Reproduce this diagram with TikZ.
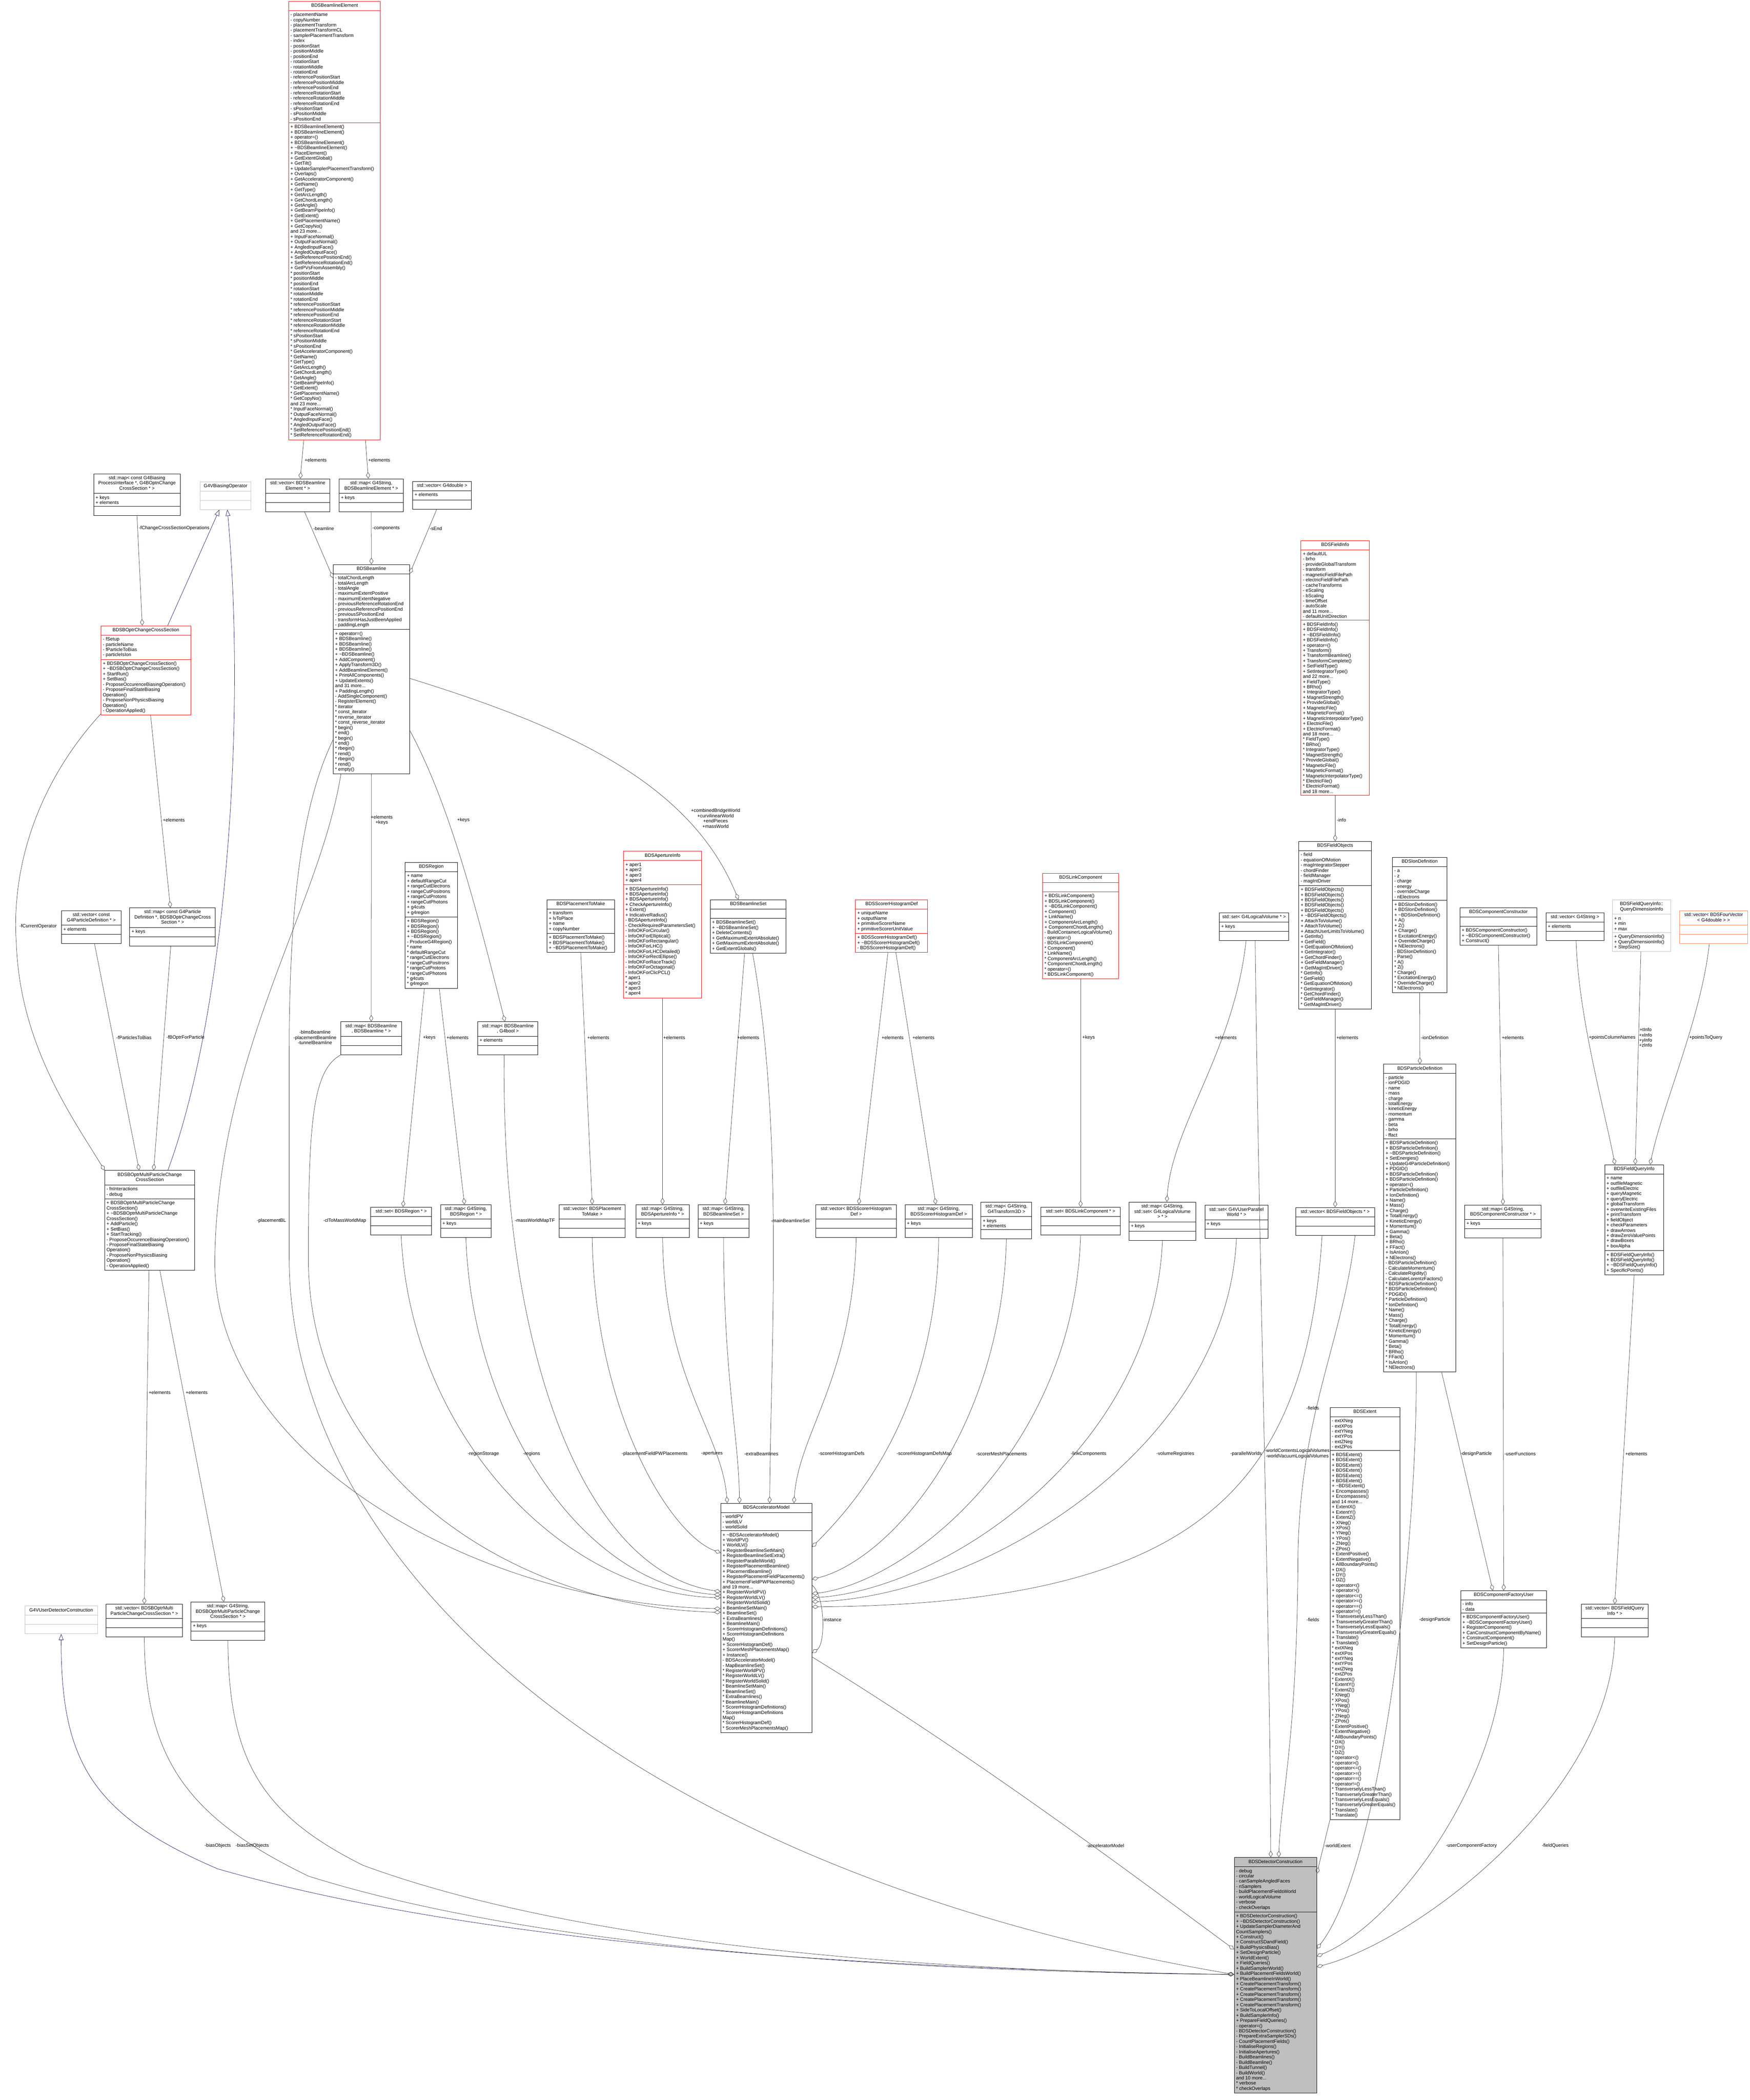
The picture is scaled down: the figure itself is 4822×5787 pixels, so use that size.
\documentclass[tikz,border=0pt]{standalone}
\usepackage{fontspec}
\setmainfont{Liberation Sans}
\usepackage{xcolor}
\definecolor{edgegray}{RGB}{64,64,64}
\definecolor{navyblue}{RGB}{25,25,112}
\definecolor{boxgray}{RGB}{191,191,191}
\definecolor{orangebox}{RGB}{255,127,80}
\usetikzlibrary{arrows.meta,shapes.multipart}
\newcommand\cfont{\fontsize{13}{14.4}\selectfont}
\newcommand\tld{\textasciitilde}
\newcommand\ttl[1]{\begin{tabular}{@{}c@{}}#1\end{tabular}}

\begin{document}
\cfont
\begin{tikzpicture}[x=1pt,y=-1pt]
	\tikzstyle{cls}=[draw=black,line width=1.1pt,fill=white,rectangle split,rectangle split parts=3,rectangle split part align={center,left,left},align=left,inner xsep=5pt,inner ysep=5pt,anchor=north west];
	\tikzstyle{agg}=[draw=edgegray,line width=0.9pt,-{Diamond[open,length=18pt,width=11pt]}];
	\tikzstyle{inh}=[draw=navyblue,line width=0.9pt,-{Triangle[open,length=17pt,width=13pt]}];
	\tikzstyle{lab}=[inner sep=0pt,align=center];
	\fill[white] (0,0) rectangle (4822,5787);
	\useasboundingbox (0,0) rectangle (4822,5787);
	%% Top
	\node[cls,draw=red,minimum width=253] (elem) at (795,3) {\strut BDSBeamlineElement\nodepart{two}\strut - placementName\\- copyNumber\\- placementTransform\\- placementTransformCL\\- samplerPlacementTransform\\- index\\- positionStart\\- positionMiddle\\- positionEnd\\- rotationStart\\- rotationMiddle\\- rotationEnd\\- referencePositionStart\\- referencePositionMiddle\\- referencePositionEnd\\- referenceRotationStart\\- referenceRotationMiddle\\- referenceRotationEnd\\- sPositionStart\\- sPositionMiddle\\- sPositionEnd\nodepart{three}\strut + BDSBeamlineElement()\\+ BDSBeamlineElement()\\+ operator=()\\+ BDSBeamlineElement()\\+ \tld BDSBeamlineElement()\\+ PlaceElement()\\+ GetExtentGlobal()\\+ GetTilt()\\+ UpdateSamplerPlacementTransform()\\+ Overlaps()\\+ GetAcceleratorComponent()\\+ GetName()\\+ GetType()\\+ GetArcLength()\\+ GetChordLength()\\+ GetAngle()\\+ GetBeamPipeInfo()\\+ GetExtent()\\+ GetPlacementName()\\+ GetCopyNo()\\and 23 more...\\+ InputFaceNormal()\\+ OutputFaceNormal()\\+ AngledInputFace()\\+ AngledOutputFace()\\+ SetReferencePositionEnd()\\+ SetReferenceRotationEnd()\\+ GetPVsFromAssembly()\\{}* positionStart\\{}* positionMiddle\\{}* positionEnd\\{}* rotationStart\\{}* rotationMiddle\\{}* rotationEnd\\{}* referencePositionStart\\{}* referencePositionMiddle\\{}* referencePositionEnd\\{}* referenceRotationStart\\{}* referenceRotationMiddle\\{}* referenceRotationEnd\\{}* sPositionStart\\{}* sPositionMiddle\\{}* sPositionEnd\\{}* GetAcceleratorComponent()\\{}* GetName()\\{}* GetType()\\{}* GetArcLength()\\{}* GetChordLength()\\{}* GetAngle()\\{}* GetBeamPipeInfo()\\{}* GetExtent()\\{}* GetPlacementName()\\{}* GetCopyNo()\\and 23 more...\\{}* InputFaceNormal()\\{}* OutputFaceNormal()\\{}* AngledInputFace()\\{}* AngledOutputFace()\\{}* SetReferencePositionEnd()\\{}* SetReferenceRotationEnd()};
	\node[cls,minimum width=238] (mapbias) at (258,1305) {\ttl{std::map< const G4Biasing\\ProcessInterface *, G4BOptnChange\\CrossSection * >}\nodepart{two}\strut + keys\\+ elements\nodepart{three}\strut};
	\node[cls,draw=boxgray,minimum width=140] (biasop) at (551,1327) {\strut G4VBiasingOperator\nodepart{two}\strut\nodepart{three}\strut};
	\node[cls,minimum width=178] (vecelem) at (731,1319) {\ttl{std::vector< BDSBeamline\\Element * >}\nodepart{two}\strut\nodepart{three}\strut};
	\node[cls,minimum width=177] (mapelem) at (934,1319) {\ttl{std::map< G4String,\\BDSBeamlineElement * >}\nodepart{two}\strut + keys\nodepart{three}\strut};
	\node[cls,minimum width=162] (vecdbl) at (1137,1326) {\strut std::vector< G4double >\nodepart{two}\strut + elements\nodepart{three}\strut};
	\node[cls,minimum width=210] (beamline) at (918,1555) {\strut BDSBeamline\nodepart{two}\strut - totalChordLength\\- totalArcLength\\- totalAngle\\- maximumExtentPositive\\- maximumExtentNegative\\- previousReferenceRotationEnd\\- previousReferencePositionEnd\\- previousSPositionEnd\\- transformHasJustBeenApplied\\- paddingLength\nodepart{three}\strut + operator=()\\+ BDSBeamline()\\+ BDSBeamline()\\+ BDSBeamline()\\+ \tld BDSBeamline()\\+ AddComponent()\\+ ApplyTransform3D()\\+ AddBeamlineElement()\\+ PrintAllComponents()\\+ UpdateExtents()\\and 31 more...\\+ PaddingLength()\\- AddSingleComponent()\\- RegisterElement()\\{}* iterator\\{}* const\_iterator\\{}* reverse\_iterator\\{}* const\_reverse\_iterator\\{}* begin()\\{}* end()\\{}* begin()\\{}* end()\\{}* rbegin()\\{}* rend()\\{}* rbegin()\\{}* rend()\\{}* empty()};
	\node[cls,draw=red,minimum width=247] (optchange) at (278,1724) {\strut BDSBOptrChangeCrossSection\nodepart{two}\strut - fSetup\\- particleName\\- fParticleToBias\\- particleIsIon\nodepart{three}\strut + BDSBOptrChangeCrossSection()\\+ \tld BDSBOptrChangeCrossSection()\\+ StartRun()\\+ SetBias()\\- ProposeOccurenceBiasingOperation()\\- ProposeFinalStateBiasing\\Operation()\\- ProposeNonPhysicsBiasing\\Operation()\\- OperationApplied()};
	\node[cls,draw=red,minimum width=188] (fieldinfo) at (3585,1489) {\strut BDSFieldInfo\nodepart{two}\strut + defaultUL\\- brho\\- provideGlobalTransform\\- transform\\- magneticFieldFilePath\\- electricFieldFilePath\\- cacheTransforms\\- eScaling\\- bScaling\\- timeOffset\\- autoScale\\and 11 more...\\- defaultUnitDirection\nodepart{three}\strut + BDSFieldInfo()\\+ BDSFieldInfo()\\+ \tld BDSFieldInfo()\\+ BDSFieldInfo()\\+ operator=()\\+ Transform()\\+ TransformBeamline()\\+ TransformComplete()\\+ SetFieldType()\\+ SetIntegratorType()\\and 22 more...\\+ FieldType()\\+ BRho()\\+ IntegratorType()\\+ MagnetStrength()\\+ ProvideGlobal()\\+ MagneticFile()\\+ MagneticFormat()\\+ MagneticInterpolatorType()\\+ ElectricFile()\\+ ElectricFormat()\\and 18 more...\\{}* FieldType()\\{}* BRho()\\{}* IntegratorType()\\{}* MagnetStrength()\\{}* ProvideGlobal()\\{}* MagneticFile()\\{}* MagneticFormat()\\{}* MagneticInterpolatorType()\\{}* ElectricFile()\\{}* ElectricFormat()\\and 18 more...};
	%% Middle row
	\node[cls,minimum width=164] (vecpd) at (169,2509) {\ttl{std::vector< const\\G4ParticleDefinition * >}\nodepart{two}\strut + elements\nodepart{three}\strut};
	\node[cls,minimum width=236] (mappd) at (357,2501) {\ttl{std::map< const G4Particle\\Definition *, BDSBOptrChangeCross\\Section * >}\nodepart{two}\strut + keys\nodepart{three}\strut};
	\node[cls,minimum width=167] (mapblbl) at (939,2815) {\ttl{std::map< BDSBeamline\\*, BDSBeamline * >}\nodepart{two}\strut\nodepart{three}\strut};
	\node[cls,minimum width=144] (region) at (1116,2376) {\strut BDSRegion\nodepart{two}\strut + name\\+ defaultRangeCut\\+ rangeCutElectrons\\+ rangeCutPositrons\\+ rangeCutProtons\\+ rangeCutPhotons\\+ g4cuts\\+ g4region\nodepart{three}\strut + BDSRegion()\\+ BDSRegion()\\+ BDSRegion()\\+ \tld BDSRegion()\\- ProduceG4Region()\\{}* name\\{}* defaultRangeCut\\{}* rangeCutElectrons\\{}* rangeCutPositrons\\{}* rangeCutProtons\\{}* rangeCutPhotons\\{}* g4cuts\\{}* g4region};
	\node[cls,minimum width=166] (mapblbool) at (1316,2815) {\ttl{std::map< BDSBeamline\\*, G4bool >}\nodepart{two}\strut + elements\nodepart{three}\strut};
	\node[cls,minimum width=186] (placemake) at (1507,2479) {\strut BDSPlacementToMake\nodepart{two}\strut + transform\\+ lvToPlace\\+ name\\+ copyNumber\nodepart{three}\strut + BDSPlacementToMake()\\+ BDSPlacementToMake()\\+ \tld BDSPlacementToMake()};
	\node[cls,draw=red,minimum width=215] (aperinfo) at (1718,2345) {\strut BDSApertureInfo\nodepart{two}\strut + aper1\\+ aper2\\+ aper3\\+ aper4\nodepart{three}\strut + BDSApertureInfo()\\+ BDSApertureInfo()\\+ BDSApertureInfo()\\+ CheckApertureInfo()\\+ Extent()\\+ IndicativeRadius()\\- BDSApertureInfo()\\- CheckRequiredParametersSet()\\- InfoOKForCircular()\\- InfoOKForElliptical()\\- InfoOKForRectangular()\\- InfoOKForLHC()\\- InfoOKForLHCDetailed()\\- InfoOKForRectEllipse()\\- InfoOKForRaceTrack()\\- InfoOKForOctagonal()\\- InfoOKForClicPCL()\\{}* aper1\\{}* aper2\\{}* aper3\\{}* aper4};
	\node[cls,minimum width=209] (blset) at (1957,2479) {\strut BDSBeamlineSet\nodepart{two}\strut\nodepart{three}\strut + BDSBeamlineSet()\\+ \tld BDSBeamlineSet()\\+ DeleteContents()\\+ GetMaximumExtentAbsolute()\\+ GetMaximumExtentAbsolute()\\+ GetExtentGlobals()};
	\node[cls,draw=red,minimum width=199] (scorerdef) at (2357,2479) {\strut BDSScorerHistogramDef\nodepart{two}\strut + uniqueName\\+ outputName\\+ primitiveScorerName\\+ primitiveScorerUnitValue\nodepart{three}\strut + BDSScorerHistogramDef()\\+ \tld BDSScorerHistogramDef()\\- BDSScorerHistogramDef()};
	\node[cls,draw=red,minimum width=209] (linkcomp) at (2873,2406) {\strut BDSLinkComponent\nodepart{two}\strut\nodepart{three}\strut + BDSLinkComponent()\\+ BDSLinkComponent()\\+ \tld BDSLinkComponent()\\+ Component()\\+ LinkName()\\+ ComponentArcLength()\\+ ComponentChordLength()\\- BuildContainerLogicalVolume()\\- operator=()\\- BDSLinkComponent()\\{}* Component()\\{}* LinkName()\\{}* ComponentArcLength()\\{}* ComponentChordLength()\\{}* operator=()\\{}* BDSLinkComponent()};
	\node[cls,minimum width=191] (setlv) at (3360,2515) {\strut std::set< G4LogicalVolume * >\nodepart{two}\strut + keys\nodepart{three}\strut};
	\node[cls,minimum width=200] (fieldobj) at (3579,2318) {\strut BDSFieldObjects\nodepart{two}\strut - field\\- equationOfMotion\\- magIntegratorStepper\\- chordFinder\\- fieldManager\\- magIntDriver\nodepart{three}\strut + BDSFieldObjects()\\+ BDSFieldObjects()\\+ BDSFieldObjects()\\+ BDSFieldObjects()\\+ BDSFieldObjects()\\+ \tld BDSFieldObjects()\\+ AttachToVolume()\\+ AttachToVolume()\\+ AttachUserLimitsToVolume()\\+ GetInfo()\\+ GetField()\\+ GetEquationOfMotion()\\+ GetIntegrator()\\+ GetChordFinder()\\+ GetFieldManager()\\+ GetMagIntDriver()\\{}* GetInfo()\\{}* GetField()\\{}* GetEquationOfMotion()\\{}* GetIntegrator()\\{}* GetChordFinder()\\{}* GetFieldManager()\\{}* GetMagIntDriver()};
	\node[cls,minimum width=150] (iondef) at (3837,2362) {\strut BDSIonDefinition\nodepart{two}\strut - a\\- z\\- charge\\- energy\\- overrideCharge\\- nElectrons\nodepart{three}\strut + BDSIonDefinition()\\+ BDSIonDefinition()\\+ \tld BDSIonDefinition()\\+ A()\\+ Z()\\+ Charge()\\+ ExcitationEnergy()\\+ OverrideCharge()\\+ NElectrons()\\- BDSIonDefinition()\\- Parse()\\{}* A()\\{}* Z()\\{}* Charge()\\{}* ExcitationEnergy()\\{}* OverrideCharge()\\{}* NElectrons()};
	\node[cls,minimum width=212] (compcons) at (4023,2501) {\strut BDSComponentConstructor\nodepart{two}\strut\nodepart{three}\strut + BDSComponentConstructor()\\+ \tld BDSComponentConstructor()\\+ Construct()};
	\node[cls,minimum width=160] (vecstr) at (4260,2515) {\strut std::vector< G4String >\nodepart{two}\strut + elements\nodepart{three}\strut};
	\node[cls,draw=boxgray,minimum width=161] (querydim) at (4443,2479) {\ttl{BDSFieldQueryInfo::\\QueryDimensionInfo}\nodepart{two}\strut + n\\+ min\\+ max\nodepart{three}\strut + QueryDimensionInfo()\\+ QueryDimensionInfo()\\+ StepSize()};
	\node[cls,draw=orangebox,minimum width=188] (vecfour) at (4628,2509) {\ttl{std::vector< BDSFourVector\\< G4double > >}\nodepart{two}\strut\nodepart{three}\strut};
	\node[cls,minimum width=199] (partdef) at (3813,2932) {\strut BDSParticleDefinition\nodepart{two}\strut - particle\\- ionPDGID\\- name\\- mass\\- charge\\- totalEnergy\\- kineticEnergy\\- momentum\\- gamma\\- beta\\- brho\\- ffact\nodepart{three}\strut + BDSParticleDefinition()\\+ BDSParticleDefinition()\\+ \tld BDSParticleDefinition()\\+ SetEnergies()\\+ UpdateG4ParticleDefinition()\\+ PDGID()\\+ BDSParticleDefinition()\\+ BDSParticleDefinition()\\+ operator=()\\+ ParticleDefinition()\\+ IonDefinition()\\+ Name()\\+ Mass()\\+ Charge()\\+ TotalEnergy()\\+ KineticEnergy()\\+ Momentum()\\+ Gamma()\\+ Beta()\\+ BRho()\\+ FFact()\\+ IsAnIon()\\+ NElectrons()\\- BDSParticleDefinition()\\- CalculateMomentum()\\- CalculateRigidity()\\- CalculateLorentzFactors()\\{}* BDSParticleDefinition()\\{}* BDSParticleDefinition()\\{}* PDGID()\\{}* ParticleDefinition()\\{}* IonDefinition()\\{}* Name()\\{}* Mass()\\{}* Charge()\\{}* TotalEnergy()\\{}* KineticEnergy()\\{}* Momentum()\\{}* Gamma()\\{}* Beta()\\{}* BRho()\\{}* FFact()\\{}* IsAnIon()\\{}* NElectrons()};
	\node[cls,minimum width=162] (fqinfo) at (4422,3209) {\strut BDSFieldQueryInfo\nodepart{two}\strut + name\\+ outfileMagnetic\\+ outfileElectric\\+ queryMagnetic\\+ queryElectric\\+ globalTransform\\+ overwriteExistingFiles\\+ printTransform\\+ fieldObject\\+ checkParameters\\+ drawArrows\\+ drawZeroValuePoints\\+ drawBoxes\\+ boxAlpha\nodepart{three}\strut + BDSFieldQueryInfo()\\+ BDSFieldQueryInfo()\\+ \tld BDSFieldQueryInfo()\\+ SpecificPoints()};
	\node[cls,minimum width=248] (optmulti) at (288,3225) {\ttl{BDSBOptrMultiParticleChange\\CrossSection}\nodepart{two}\strut - fnInteractions\\- debug\nodepart{three}\strut + BDSBOptrMultiParticleChange\\CrossSection()\\+ \tld BDSBOptrMultiParticleChange\\CrossSection()\\+ AddParticle()\\+ SetBias()\\+ StartTracking()\\- ProposeOccurenceBiasingOperation()\\- ProposeFinalStateBiasing\\Operation()\\- ProposeNonPhysicsBiasing\\Operation()\\- OperationApplied()};
	%% Container row
	\node[cls,minimum width=168] (setregion) at (1021,3326) {\strut std::set< BDSRegion * >\nodepart{two}\strut\nodepart{three}\strut};
	\node[cls,minimum width=139] (mapregion) at (1214,3319) {\ttl{std::map< G4String,\\BDSRegion * >}\nodepart{two}\strut + keys\nodepart{three}\strut};
	\node[cls,minimum width=181] (vecplace) at (1541,3319) {\ttl{std::vector< BDSPlacement\\ToMake >}\nodepart{two}\strut\nodepart{three}\strut};
	\node[cls,minimum width=147] (mapaper) at (1752,3319) {\ttl{std::map< G4String,\\BDSApertureInfo * >}\nodepart{two}\strut + keys\nodepart{three}\strut};
	\node[cls,minimum width=141] (mapblset) at (1923,3319) {\ttl{std::map< G4String,\\BDSBeamlineSet >}\nodepart{two}\strut + keys\nodepart{three}\strut};
	\node[cls,minimum width=222] (vecscorer) at (2248,3319) {\ttl{std::vector< BDSScorerHistogram\\Def >}\nodepart{two}\strut\nodepart{three}\strut};
	\node[cls,minimum width=185] (mapscorer) at (2494,3319) {\ttl{std::map< G4String,\\BDSScorerHistogramDef >}\nodepart{two}\strut + keys\nodepart{three}\strut};
	\node[cls,minimum width=140] (maptrans) at (2703,3312) {\ttl{std::map< G4String,\\G4Transform3D >}\nodepart{two}\strut + keys\\+ elements\nodepart{three}\strut};
	\node[cls,minimum width=219] (setlink) at (2868,3326) {\strut std::set< BDSLinkComponent * >\nodepart{two}\strut\nodepart{three}\strut};
	\node[cls,minimum width=184] (mapvol) at (3111,3312) {\ttl{std::map< G4String,\\std::set< G4LogicalVolume\\* > * >}\nodepart{two}\strut + keys\nodepart{three}\strut};
	\node[cls,minimum width=174] (setpar) at (3320,3321) {\ttl{std::set< G4VUserParallel\\World * >}\nodepart{two}\strut + keys\nodepart{three}\strut};
	\node[cls,minimum width=218] (vecfobj) at (3570,3327) {\strut std::vector< BDSFieldObjects * >\nodepart{two}\strut\nodepart{three}\strut};
	\node[cls,minimum width=211] (mapcons) at (4036,3320) {\ttl{std::map< G4String,\\BDSComponentConstructor * >}\nodepart{two}\strut + keys\nodepart{three}\strut};
	%% Lower part
	\node[cls,minimum width=251] (accmodel) at (1986,4142) {\strut BDSAcceleratorModel\nodepart{two}\strut - worldPV\\- worldLV\\- worldSolid\nodepart{three}\strut + \tld BDSAcceleratorModel()\\+ WorldPV()\\+ WorldLV()\\+ RegisterBeamlineSetMain()\\+ RegisterBeamlineSetExtra()\\+ RegisterParallelWorld()\\+ RegisterPlacementBeamline()\\+ PlacementBeamline()\\+ RegisterPlacementFieldPlacements()\\+ PlacementFieldPWPlacements()\\and 19 more...\\+ RegisterWorldPV()\\+ RegisterWorldLV()\\+ RegisterWorldSolid()\\+ BeamlineSetMain()\\+ BeamlineSet()\\+ ExtraBeamlines()\\+ BeamlineMain()\\+ ScorerHistogramDefinitions()\\+ ScorerHistogramDefinitions\\Map()\\+ ScorerHistogramDef()\\+ ScorerMeshPlacementsMap()\\+ Instance()\\- BDSAcceleratorModel()\\- MapBeamlineSet()\\{}* RegisterWorldPV()\\{}* RegisterWorldLV()\\{}* RegisterWorldSolid()\\{}* BeamlineSetMain()\\{}* BeamlineSet()\\{}* ExtraBeamlines()\\{}* BeamlineMain()\\{}* ScorerHistogramDefinitions()\\{}* ScorerHistogramDefinitions\\Map()\\{}* ScorerHistogramDef()\\{}* ScorerMeshPlacementsMap()};
	\node[cls,minimum width=192] (extent) at (3665,3878) {\strut BDSExtent\nodepart{two}\strut - extXNeg\\- extXPos\\- extYNeg\\- extYPos\\- extZNeg\\- extZPos\nodepart{three}\strut + BDSExtent()\\+ BDSExtent()\\+ BDSExtent()\\+ BDSExtent()\\+ BDSExtent()\\+ BDSExtent()\\+ \tld BDSExtent()\\+ Encompasses()\\+ Encompasses()\\and 14 more...\\+ ExtentX()\\+ ExtentY()\\+ ExtentZ()\\+ XNeg()\\+ XPos()\\+ YNeg()\\+ YPos()\\+ ZNeg()\\+ ZPos()\\+ ExtentPositive()\\+ ExtentNegative()\\+ AllBoundaryPoints()\\+ DX()\\+ DY()\\+ DZ()\\+ operator<()\\+ operator>()\\+ operator<=()\\+ operator>=()\\+ operator==()\\+ operator!=()\\+ TransverselyLessThan()\\+ TransverselyGreaterThan()\\+ TransverselyLessEquals()\\+ TransverselyGreaterEquals()\\+ Translate()\\+ Translate()\\{}* extXNeg\\{}* extXPos\\{}* extYNeg\\{}* extYPos\\{}* extZNeg\\{}* extZPos\\{}* ExtentX()\\{}* ExtentY()\\{}* ExtentZ()\\{}* XNeg()\\{}* XPos()\\{}* YNeg()\\{}* YPos()\\{}* ZNeg()\\{}* ZPos()\\{}* ExtentPositive()\\{}* ExtentNegative()\\{}* AllBoundaryPoints()\\{}* DX()\\{}* DY()\\{}* DZ()\\{}* operator<()\\{}* operator>()\\{}* operator<=()\\{}* operator>=()\\{}* operator==()\\{}* operator!=()\\{}* TransverselyLessThan()\\{}* TransverselyGreaterThan()\\{}* TransverselyLessEquals()\\{}* TransverselyGreaterEquals()\\{}* Translate()\\{}* Translate()};
	\node[cls,minimum width=237] (cfuser) at (4025,4383) {\strut BDSComponentFactoryUser\nodepart{two}\strut - info\\- data\nodepart{three}\strut + BDSComponentFactoryUser()\\+ \tld BDSComponentFactoryUser()\\+ RegisterComponent()\\+ CanConstructComponentByName()\\+ ConstructComponent()\\+ SetDesignParticle()};
	\node[cls,minimum width=185] (vecfq) at (4357,4420) {\ttl{std::vector< BDSFieldQuery\\Info * >}\nodepart{two}\strut\nodepart{three}\strut};
	\node[cls,draw=boxgray,minimum width=200] (userdet) at (68,4425) {\strut G4VUserDetectorConstruction\nodepart{two}\strut\nodepart{three}\strut};
	\node[cls,minimum width=210] (vecom) at (292,4420) {\ttl{std::vector< BDSBOptrMulti\\ParticleChangeCrossSection * >}\nodepart{two}\strut\nodepart{three}\strut};
	\node[cls,minimum width=203] (mapom) at (526,4414) {\ttl{std::map< G4String,\\BDSBOptrMultiParticleChange\\CrossSection * >}\nodepart{two}\strut + keys\nodepart{three}\strut};
	\node[cls,fill=boxgray,minimum width=227] (detcons) at (3401,5118) {\strut BDSDetectorConstruction\nodepart{two}\strut - debug\\- circular\\- canSampleAngledFaces\\- nSamplers\\- buildPlacementFieldsWorld\\- worldLogicalVolume\\- verbose\\- checkOverlaps\nodepart{three}\strut + BDSDetectorConstruction()\\+ \tld BDSDetectorConstruction()\\+ UpdateSamplerDiameterAnd\\CountSamplers()\\+ Construct()\\+ ConstructSDandField()\\+ BuildPhysicsBias()\\+ SetDesignParticle()\\+ WorldExtent()\\+ FieldQueries()\\+ BuildSamplerWorld()\\+ BuildPlacementFieldsWorld()\\+ PlaceBeamlineInWorld()\\+ CreatePlacementTransform()\\+ CreatePlacementTransform()\\+ CreatePlacementTransform()\\+ CreatePlacementTransform()\\+ CreatePlacementTransform()\\+ SideToLocalOffset()\\+ BuildSamplerInfo()\\+ PrepareFieldQueries()\\- operator=()\\- BDSDetectorConstruction()\\- PrepareExtraSamplerSDs()\\- CountPlacementFields()\\- InitialiseRegions()\\- InitialiseApertures()\\- BuildBeamlines()\\- BuildBeamline()\\- BuildTunnel()\\- BuildWorld()\\and 10 more...\\{}* verbose\\{}* checkOverlaps};
	%% Inheritance
	\draw[inh] ([xshift=60]optchange.north) -- ([xshift=-17]biasop.south);
	\draw[inh] ([xshift=50]optmulti.north) .. controls (620,2800) and (680,2000) .. ([xshift=5]biasop.south);
	\draw[inh] ([yshift=-323]detcons.north west) .. controls (2600,5430) and (1400,5380) .. (600,5150) .. controls (250,5000) and (168,4850) .. (userdet.south);
	%% Upper usage edges
	\draw[agg] ([xshift=-85]elem.south) -- ([xshift=7]vecelem.north);
	\draw[agg] ([xshift=85]elem.south) -- ([xshift=-8]mapelem.north);
	\draw[agg] ([xshift=19]vecelem.south) -- ([yshift=-38]beamline.north west);
	\draw[agg] (mapelem.south) -- (beamline.north);
	\draw[agg] ([xshift=-15]vecdbl.south) -- ([yshift=-26]beamline.north east);
	\draw[agg] (mapbias.south) -- ([xshift=-10]optchange.north);
	\draw[agg] ([yshift=4]optchange.south west) .. controls (110,2150) and (30,2380) .. (45,2600) .. controls (55,2880) and (200,3080) .. (optmulti.north west);
	\draw[agg] ([xshift=13]optchange.south) -- ([xshift=-6]mappd.north);
	\draw[agg] ([xshift=9]vecpd.south) -- ([xshift=-29]optmulti.north);
	\draw[agg] ([xshift=-5]mappd.south) -- ([xshift=11]optmulti.north);
	\draw[agg] (beamline.south) -- (mapblbl.north);
	\draw[agg] ([yshift=121]beamline.south east) .. controls (1230,2200) and (1300,2450) .. ([xshift=-8]mapblbool.north);
	\draw[agg] ([yshift=264]beamline.south east) .. controls (1550,2000) and (1900,2150) .. ([xshift=-27]blset.north);
	\draw[agg] ([xshift=-19]region.south) -- ([xshift=5]setregion.north);
	\draw[agg] ([xshift=22]region.south) -- ([xshift=-4]mapregion.north);
	\draw[agg] (placemake.south) -- (vecplace.north);
	\draw[agg] (aperinfo.south) -- (mapaper.north);
	\draw[agg] ([xshift=-10]blset.south) -- ([xshift=4]mapblset.north);
	\draw[agg] ([xshift=-10]scorerdef.south) -- ([xshift=7]vecscorer.north);
	\draw[agg] ([xshift=12]scorerdef.south) -- ([xshift=-8]mapscorer.north);
	\draw[agg] (linkcomp.south) -- (setlink.north);
	\draw[agg] ([xshift=-22]setlv.south) .. controls (3400,2900) and (3230,3100) .. ([xshift=12]mapvol.north);
	\draw[agg] (fieldinfo.south) -- (fieldobj.north);
	\draw[agg] (fieldobj.south) -- (vecfobj.north);
	\draw[agg] (iondef.south) -- (partdef.north);
	\draw[agg] (compcons.south) -- (mapcons.north);
	\draw[agg] ([xshift=3]vecstr.south) .. controls (4350,2800) and (4420,3050) .. ([xshift=-53]fqinfo.north);
	\draw[agg] ([xshift=-2]querydim.south) -- ([xshift=3]fqinfo.north);
	\draw[agg] ([xshift=-12]vecfour.south) .. controls (4690,2800) and (4580,3050) .. ([xshift=44]fqinfo.north);
	\draw[agg] ([xshift=-2]optmulti.south) -- (vecom.north);
	\draw[agg] ([xshift=28]optmulti.south) -- ([xshift=-11]mapom.north);
	%% Edges into BDSAcceleratorModel
	\draw[agg] ([xshift=-84]beamline.south) .. controls (880,2500) and (600,2900) .. (592,3470) .. controls (585,4000) and (1300,4420) .. ([yshift=-291]accmodel.north west);
	\draw[agg] ([xshift=-84]mapblbl.south) .. controls (860,2950) and (850,3100) .. (850,3470) .. controls (850,4050) and (1400,4430) .. ([yshift=-301]accmodel.north west);
	\draw[agg] ([xshift=-10]mapblbool.south) .. controls (1380,3700) and (1600,4330) .. ([yshift=-244]accmodel.north west);
	\draw[agg] (setregion.south) .. controls (1130,3950) and (1550,4390) .. ([yshift=-261]accmodel.north west);
	\draw[agg] (mapregion.south) .. controls (1300,3900) and (1600,4370) .. ([yshift=-253]accmodel.north west);
	\draw[agg] (vecplace.south) .. controls (1640,3900) and (1850,4230) .. ([yshift=-137]accmodel.north west);
	\draw[agg] (mapaper.south) .. controls (1830,3800) and (1990,3950) .. ([xshift=-108]accmodel.north);
	\draw[agg] (mapblset.south) .. controls (1995,3800) and (2035,3950) .. ([xshift=-74]accmodel.north);
	\draw[agg] ([xshift=12]blset.south) .. controls (2160,3100) and (2125,3700) .. ([xshift=9]accmodel.north);
	\draw[agg] (vecscorer.south) .. controls (2350,3800) and (2200,3950) .. ([xshift=76]accmodel.north);
	\draw[agg] (mapscorer.south) .. controls (2580,3900) and (2350,4150) .. ([yshift=-121]accmodel.north east);
	\draw[agg] (maptrans.south) .. controls (2760,3950) and (2450,4300) .. ([yshift=-210]accmodel.north east);
	\draw[agg] (setlink.south) .. controls (2960,4000) and (2500,4360) .. ([yshift=-250]accmodel.north east);
	\draw[agg] (mapvol.south) .. controls (3180,4000) and (2600,4380) .. ([yshift=-261]accmodel.north east);
	\draw[agg] (setpar.south) .. controls (3380,4000) and (2700,4400) .. ([yshift=-272]accmodel.north east);
	\draw[agg] ([xshift=-36]vecfobj.south) .. controls (3600,4100) and (3300,4420) .. ([yshift=-286]accmodel.north east);
	\draw[agg] ([yshift=-226]accmodel.north east) .. controls (2275,4400) and (2275,4530) .. ([yshift=-413]accmodel.north east);
	%% Edges into BDSDetectorConstruction
	\draw[agg] ([yshift=-424]accmodel.north east) .. controls (2700,4850) and (3100,5150) .. ([yshift=-254]detcons.north west);
	\draw[agg] ([yshift=95]beamline.south west) .. controls (840,2200) and (797,2450) .. (797,2900) -- (797,3470) .. controls (800,4300) and (1700,5150) .. ([yshift=-323]detcons.north west);
	\draw[agg] (vecom.south) .. controls (400,4850) and (520,5010) .. (850,5170) .. controls (1550,5390) and (2650,5435) .. ([yshift=-323]detcons.north west);
	\draw[agg] (mapom.south) .. controls (630,4850) and (720,5000) .. (1000,5140) .. controls (1650,5380) and (2700,5435) .. ([yshift=-323]detcons.north west);
	\draw[agg] ([xshift=3]setlv.south) .. controls (3470,3500) and (3500,4500) .. ([xshift=-13]detcons.north);
	\draw[agg] ([xshift=55]vecfobj.south) .. controls (3700,3700) and (3580,3900) .. (3577,4300) .. controls (3574,4800) and (3530,4950) .. ([xshift=9]detcons.north);
	\draw[agg] (extent.south west) -- ([yshift=-45]detcons.north east);
	\draw[agg] ([xshift=-10]partdef.south) .. controls (3905,4300) and (3800,5150) .. ([yshift=-252]detcons.north east);
	\draw[agg] ([xshift=60]partdef.south) -- ([xshift=-30]cfuser.north);
	\draw[agg] (mapcons.south) -- (cfuser.north);
	\draw[agg] (cfuser.south) .. controls (4140,4900) and (3850,5300) .. ([yshift=-273]detcons.north east);
	\draw[agg] (fqinfo.south) -- (vecfq.north);
	\draw[agg] (vecfq.south) .. controls (4440,4950) and (3900,5350) .. ([yshift=-302]detcons.north east);
	%% Labels
	\node[lab] (l1) at (870,1268) {+elements};
	\node[lab] (l2) at (1045,1268) {+elements};
	\node[lab] (l3) at (480,1456) {-fChangeCrossSectionOperations};
	\node[lab] (l4) at (892,1456) {-beamline};
	\node[lab] (l5) at (1064,1456) {-components};
	\node[lab] (l6) at (1201,1456) {-sEnd};
	\node[lab] (l7) at (479,2260) {+elements};
	\node[lab] (l8) at (1052,2260) {+elements\\+keys};
	\node[lab] (l9) at (1277,2260) {+keys};
	\node[lab] (l10) at (1972,2255) {+combinedBridgeWorld\\+curvilinearWorld\\+endPieces\\+massWorld};
	\node[lab,anchor=west] (l11) at (3684,2260) {-info};
	\node[lab] (l12) at (105,2553) {-fCurrentOperator};
	\node[lab] (l13) at (369,2859) {-fParticlesToBias};
	\node[lab] (l14) at (511,2859) {-fBOptrForParticle};
	\node[lab] (l15) at (868,2859) {-blmsBeamline\\-placementBeamline\\-tunnelBeamline};
	\node[lab] (l16) at (1183,2859) {+keys};
	\node[lab] (l17) at (1261,2859) {+elements};
	\node[lab] (l18) at (1649,2859) {+elements};
	\node[lab] (l19) at (1858,2859) {+elements};
	\node[lab] (l20) at (2062,2859) {+elements};
	\node[lab] (l21) at (2460,2859) {+elements};
	\node[lab] (l22) at (2545,2859) {+elements};
	\node[lab] (l23) at (3000,2859) {+keys};
	\node[lab] (l24) at (3378,2859) {+elements};
	\node[lab] (l25) at (3713,2859) {+elements};
	\node[lab] (l26) at (3954,2859) {-ionDefinition};
	\node[lab] (l27) at (4169,2859) {+elements};
	\node[lab] (l28) at (4443,2859) {+pointsColumnNames};
	\node[lab] (l29) at (4535,2859) {+tInfo\\+xInfo\\+yInfo\\+zInfo};
	\node[lab] (l30) at (4701,2859) {+pointsToQuery};
	\node[lab] (l31) at (748,3364) {-placementBL};
	\node[lab] (l32) at (950,3364) {-clToMassWorldMap};
	\node[lab] (l33) at (1474,3364) {-massWorldMapTF};
	\node[lab] (l34) at (2178,3364) {-mainBeamlineSet};
	\node[lab] (l35) at (440,3837) {+elements};
	\node[lab] (l36) at (542,3837) {+elements};
	\node[lab] (l37) at (1332,4006) {-regionStorage};
	\node[lab] (l38) at (1465,4006) {-regions};
	\node[lab] (l39) at (1804,4006) {-placementFieldPWPlacements};
	\node[lab] (l40) at (1962,4006) {-apertures};
	\node[lab] (l41) at (2098,4006) {-extraBeamlines};
	\node[lab] (l42) at (2319,4006) {-scorerHistogramDefs};
	\node[lab] (l43) at (2547,4006) {-scorerHistogramDefsMap};
	\node[lab] (l44) at (2760,4006) {-scorerMeshPlacements};
	\node[lab] (l45) at (3000,4006) {-linkComponents};
	\node[lab] (l46) at (3239,4006) {-volumeRegistries};
	\node[lab] (l47) at (3434,4006) {-parallelWorlds};
	\node[lab,anchor=west] (l48) at (3600,3880) {-fields};
	\node[lab] (l49) at (3575,4006) {-worldContentsLogicalVolumes\\-worldVacuumLogicalVolumes};
	\node[lab,anchor=west] (l50) at (4025,4006) {-designParticle};
	\node[lab,anchor=west] (l51) at (4146,4006) {-userFunctions};
	\node[lab,anchor=west] (l52) at (4479,4006) {+elements};
	\node[lab,anchor=west] (l53) at (2266,4464) {-instance};
	\node[lab] (l54) at (3618,4464) {-fields};
	\node[lab] (l55) at (3954,4464) {-designParticle};
	\node[lab] (l56) at (600,5086) {-biasObjects};
	\node[lab] (l57) at (695,5086) {-biasSetObjects};
	\node[lab] (l58) at (3046,5086) {-acceleratorModel};
	\node[lab,anchor=west] (l59) at (3650,5086) {-worldExtent};
	\node[lab] (l60) at (4055,5086) {-userComponentFactory};
	\node[lab] (l61) at (4286,5086) {-fieldQueries};
\end{tikzpicture}
\end{document}
